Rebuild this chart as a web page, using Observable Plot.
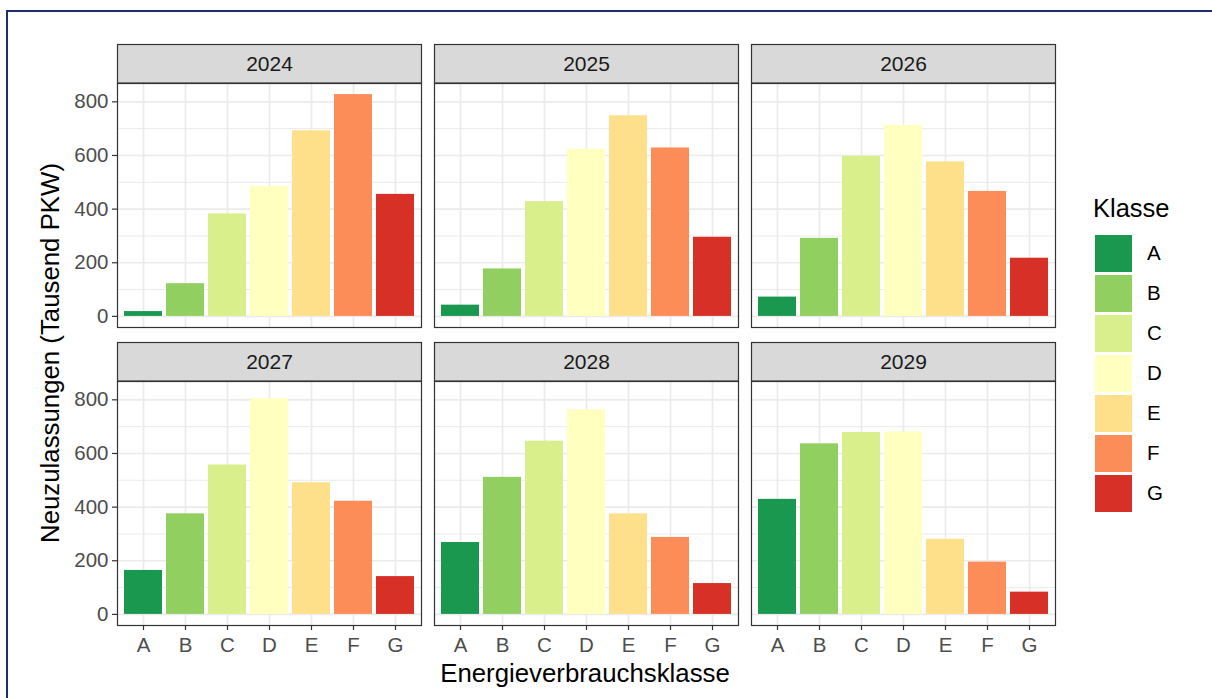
<!DOCTYPE html>
<html lang="de">
<head>
<meta charset="utf-8">
<script src="https://cdn.jsdelivr.net/npm/d3@7"></script>
<script src="https://cdn.jsdelivr.net/npm/@observablehq/plot@0.6"></script>
<style>
  html, body { margin: 0; padding: 0; background: #ffffff; }
  #page {
    position: relative; width: 1212px; height: 698px; overflow: hidden;
    font-family: "Liberation Sans", Arial, sans-serif; background: #ffffff;
  }
  #rahmen {
    position: absolute; left: 6px; top: 10px; width: 1300px; height: 800px;
    border-top: 2px solid #1c2e6c; border-left: 2px solid #1c2e6c;
  }
  #chart { position: absolute; left: 0; top: 0; }
  .titel {
    position: absolute; white-space: nowrap; line-height: 1; color: #000000;
    font-size: 25.8px; transform: translate(-50%, -50%);
  }
  #ytitel { transform: translate(-50%, -50%) rotate(-90deg); }
  #legende { position: absolute; left: 1095px; top: 196px; }
  #legende .ltitel { font-size: 25.5px; line-height: 1; margin-left: -2px; height: 37px; }
  #legende .eintrag { display: flex; align-items: center; height: 40px; }
  #legende .key { width: 37px; height: 37px; }
  #legende .lab { font-size: 20.5px; margin-left: 15px; color: #000000; }
</style>
</head>
<body>
<div id="page">
  <div id="rahmen"></div>
  <div id="chart"></div>
  <div class="titel" id="ytitel" style="left:51px; top:353px;">Neuzulassungen (Tausend PKW)</div>
  <div class="titel" style="left:585px; top:674px;">Energieverbrauchsklasse</div>
  <div id="legende"></div>
</div>
<script>
// Energieverbrauchsklassen und ihre Farben (grün = effizient, rot = ineffizient)
const klassen = ["A", "B", "C", "D", "E", "F", "G"];
const farben = ["#1a9850", "#91cf60", "#d9ef8b", "#ffffbf", "#fee08b", "#fc8d59", "#d73027"];

// Jahre der Facetten
const jahre = [2024, 2025, 2026, 2027, 2028, 2029];

// Neuzulassungen je Klasse (Tausend PKW), Reihenfolge A–G
const werte2024 = [18, 122, 382, 485, 692, 827, 455];
const werte2025 = [42, 177, 428, 623, 748, 628, 295];
const werte2026 = [72, 291, 597, 712, 576, 466, 217];
const werte2027 = [164, 375, 557, 804, 491, 422, 141];
const werte2028 = [268, 511, 646, 763, 375, 287, 115];
const werte2029 = [429, 636, 678, 680, 280, 195, 83];

// Achsenbeschriftung
const yTicks = [0, 200, 400, 600, 800];
const yMinor = [100, 300, 500, 700];

const werteJeJahr = [werte2024, werte2025, werte2026, werte2027, werte2028, werte2029];

// Lange Tabelle: ein Datensatz je Jahr und Klasse, mit Spalte/Zeile des Panels
const daten = jahre.flatMap((jahr, i) =>
  klassen.map((klasse, k) => ({
    jahr, klasse, wert: werteJeJahr[i][k], spalte: i % 3, zeile: Math.floor(i / 3)
  }))
);
const panels = jahre.map((jahr, i) => ({jahr: String(jahr), spalte: i % 3, zeile: Math.floor(i / 3)}));

// Layout der 2×3 Panels
const W = 1212, H = 698;
const mTop = 83, mBottom = 72, mLeft = 116, mRight = 156;
const fyPad = 54 / 298.5;
const fyBand = (H - mTop - mBottom) / (2 - fyPad) * (1 - fyPad);
const stripHoehe = 39;

const maxWert = d3.max(daten, d => d.wert);

const chart = Plot.plot({
  width: W,
  height: H,
  marginTop: mTop,
  marginBottom: mBottom,
  marginLeft: mLeft,
  marginRight: mRight,
  style: {fontFamily: "Liberation Sans, Arial, sans-serif", fontSize: "20.5px", background: "transparent", overflow: "visible"},
  fx: {domain: [0, 1, 2], axis: null, paddingInner: 13 / 318, paddingOuter: 0},
  fy: {domain: [0, 1], axis: null, paddingInner: fyPad, paddingOuter: 0},
  x: {domain: klassen, paddingInner: 0.1, paddingOuter: 0.15, label: null},
  y: {domain: [-0.05 * maxWert, 1.05 * maxWert], label: null},
  color: {domain: klassen, range: farben},
  marks: [
    Plot.gridY({ticks: yMinor, stroke: "#ebebeb", strokeOpacity: 1, strokeWidth: 1}),
    Plot.gridY({ticks: yTicks, stroke: "#ebebeb", strokeOpacity: 1, strokeWidth: 1.7}),
    Plot.gridX({stroke: "#ebebeb", strokeOpacity: 1, strokeWidth: 1.7}),
    Plot.barY(daten, {x: "klasse", y: "wert", fill: "klasse", fx: "spalte", fy: "zeile"}),
    Plot.frame({stroke: "#333333", strokeWidth: 1.2}),
    // Streifen mit der Jahreszahl über jedem Panel
    Plot.frame({fill: "#d9d9d9", stroke: "#333333", strokeWidth: 1.2, insetTop: -stripHoehe, insetBottom: fyBand}),
    Plot.text(panels, {fx: "spalte", fy: "zeile", text: "jahr", frameAnchor: "top", lineAnchor: "middle", dy: -stripHoehe / 2, fill: "#1a1a1a", fontSize: 21}),
    Plot.axisY({ticks: yTicks, tickSize: 5, tickPadding: 4, label: null, stroke: "#333333", strokeWidth: 1.2, fill: "#4d4d4d", fontSize: 20.5}),
    Plot.axisX({tickSize: 5, tickPadding: 7, label: null, stroke: "#333333", strokeWidth: 1.2, fill: "#4d4d4d", fontSize: 20.5})
  ]
});
document.getElementById("chart").append(chart);

// Legende "Klasse"
const legende = d3.select("#legende");
legende.append("div").attr("class", "ltitel").text("Klasse");
klassen.forEach((k, i) => {
  const e = legende.append("div").attr("class", "eintrag");
  e.append("div").attr("class", "key").style("background", farben[i]);
  e.append("div").attr("class", "lab").text(k);
});
</script>
</body>
</html>
